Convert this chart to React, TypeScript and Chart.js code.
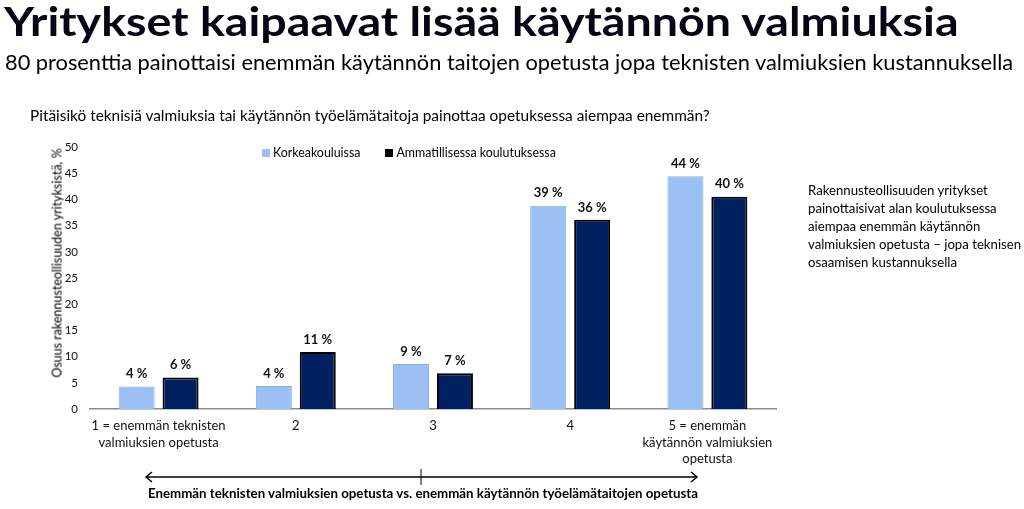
import React, { useEffect, useRef } from "react";
import { Chart, registerables } from "chart.js";

Chart.register(...registerables);

const categories: (string | string[])[] = [
  ["1 = enemmän teknisten", "valmiuksien opetusta"],
  "2",
  "3",
  "4",
  ["5 = enemmän", "käytännön valmiuksien", "opetusta"],
];
const seriesNames = ["Korkeakouluissa", "Ammatillisessa koulutuksessa"];
const korkeakouluissa = [4.3, 4.4, 8.6, 38.8, 44.4];
const ammatillisessa = [6.0, 10.9, 6.8, 36.1, 40.5];
const korkeaLabels = ["4 %", "4 %", "9 %", "39 %", "44 %"];
const ammatLabels = ["6 %", "11 %", "7 %", "36 %", "40 %"];
const yMin = 0;
const yMax = 50;
const yStep = 5;

const FONT = 'Lato, "Open Sans", "Noto Sans", sans-serif';
const LIGHT = "#9BC0F4";
const LIGHT_BORDER = "#86ACE6";
const DARK = "#002060";
const DARK_BORDER = "#000000";

const dataLabelPlugin = {
  id: "dataLabels",
  afterDatasetsDraw(chart: any) {
    const ctx = chart.ctx;
    const labelSets = [korkeaLabels, ammatLabels];
    ctx.save();
    ctx.font = `bold 13px ${FONT}`;
    ctx.fillStyle = "#111";
    ctx.textAlign = "center";
    ctx.textBaseline = "bottom";
    chart.data.datasets.forEach((_: any, di: number) => {
      const meta = chart.getDatasetMeta(di);
      meta.data.forEach((el: any, i: number) => {
        ctx.fillText(labelSets[di][i], el.x, el.y - 6);
      });
    });
    ctx.restore();
  },
};

function BarChart() {
  const ref = useRef<HTMLCanvasElement | null>(null);
  useEffect(() => {
    if (!ref.current) return;
    const chart = new Chart(ref.current, {
      type: "bar",
      data: {
        labels: categories,
        datasets: [
          {
            label: seriesNames[0],
            data: korkeakouluissa,
            backgroundColor: LIGHT,
            borderColor: LIGHT_BORDER,
            borderWidth: 1,
            categoryPercentage: 0.64,
            barPercentage: 0.82,
          },
          {
            label: seriesNames[1],
            data: ammatillisessa,
            backgroundColor: DARK,
            borderColor: DARK_BORDER,
            borderWidth: 2,
            categoryPercentage: 0.64,
            barPercentage: 0.82,
          },
        ],
      },
      options: {
        animation: false,
        responsive: false,
        devicePixelRatio: 1,
        layout: { padding: { top: 147, left: 0, right: 248, bottom: 40 } },
        plugins: {
          legend: { display: false },
          tooltip: { enabled: false },
          title: { display: false },
        },
        scales: {
          x: {
            grid: { display: false, drawTicks: false },
            border: { display: true, color: "#8c8c8c", width: 1.5 },
            ticks: {
              font: { family: FONT, size: 13, lineHeight: 1.25 },
              color: "#111",
              padding: 9,
              maxRotation: 0,
              autoSkip: false,
            },
            afterFit(scale: any) {
              scale.height = 60;
            },
          },
          y: {
            min: yMin,
            max: yMax,
            grid: { display: false, drawTicks: false },
            border: { display: false },
            ticks: {
              stepSize: yStep,
              font: { family: FONT, size: 11.5 },
              color: "#111",
              padding: 12,
            },
            afterFit(scale: any) {
              scale.width = 90;
            },
          },
        },
      },
      plugins: [dataLabelPlugin],
    } as any);
    return () => chart.destroy();
  }, []);
  return (
    <canvas
      ref={ref}
      width={1024}
      height={509}
      style={{ position: "absolute", left: 0, top: 0, width: 1024, height: 509 }}
    />
  );
}

export default function App() {
  const txt: React.CSSProperties = {
    position: "absolute",
    fontFamily: FONT,
    color: "#000",
    whiteSpace: "nowrap",
    margin: 0,
  };
  return (
    <div
      style={{
        position: "fixed",
        left: 0,
        top: 0,
        width: 1024,
        height: 509,
        background: "#fff",
        overflow: "hidden",
      }}
    >
      <BarChart />
      <div
        style={{
          ...txt,
          left: 4,
          top: -3,
          fontSize: 40,
          fontWeight: 700,
          color: "#050514",
          transform: "scaleX(1.165)",
          transformOrigin: "left top",
        }}
      >
        Yritykset kaipaavat lisää käytännön valmiuksia
      </div>
      <div style={{ ...txt, left: 5, top: 48, fontSize: 21.8 }}>
        80 prosenttia painottaisi enemmän käytännön taitojen opetusta jopa teknisten valmiuksien kustannuksella
      </div>
      <div style={{ ...txt, left: 30, top: 106, fontSize: 15.4 }}>
        Pitäisikö teknisiä valmiuksia tai käytännön työelämätaitoja painottaa opetuksessa aiempaa enemmän?
      </div>
      <div
        style={{
          ...txt,
          left: 57,
          top: 263,
          fontSize: 12.5,
          transform: "translate(-50%, -50%) rotate(-90deg)",
        }}
      >
        Osuus rakennusteollisuuden yrityksistä, %
      </div>
      <div style={{ ...txt, left: 262, top: 145, fontSize: 12.4, display: "flex", alignItems: "center" }}>
        <span style={{ display: "inline-block", width: 8, height: 8, background: LIGHT, marginRight: 3 }} />
        <span>{seriesNames[0]}</span>
        <span style={{ display: "inline-block", width: 8, height: 8, background: "#000", marginLeft: 25, marginRight: 3 }} />
        <span>{seriesNames[1]}</span>
      </div>
      <div style={{ ...txt, left: 808, top: 181, fontSize: 13.2, lineHeight: "18px", whiteSpace: "nowrap" }}>
        Rakennusteollisuuden yritykset
        <br />
        painottaisivat alan koulutuksessa
        <br />
        aiempaa enemmän käytännön
        <br />
        valmiuksien opetusta – jopa teknisen
        <br />
        osaamisen kustannuksella
      </div>
      <svg
        width={1024}
        height={509}
        style={{ position: "absolute", left: 0, top: 0 }}
      >
        <line x1={146} y1={477} x2={697} y2={477} stroke="#000" strokeWidth={1.5} />
        <line x1={421} y1={469} x2={421} y2={485} stroke="#000" strokeWidth={1} />
        <polyline points="152,472 146,477 152,482" fill="none" stroke="#000" strokeWidth={1.5} />
        <polyline points="691,472 697,477 691,482" fill="none" stroke="#000" strokeWidth={1.5} />
      </svg>
      <div style={{ ...txt, left: 148, top: 485, fontSize: 13.3, fontWeight: 700 }}>
        Enemmän teknisten valmiuksien opetusta vs. enemmän käytännön työelämätaitojen opetusta
      </div>
    </div>
  );
}
